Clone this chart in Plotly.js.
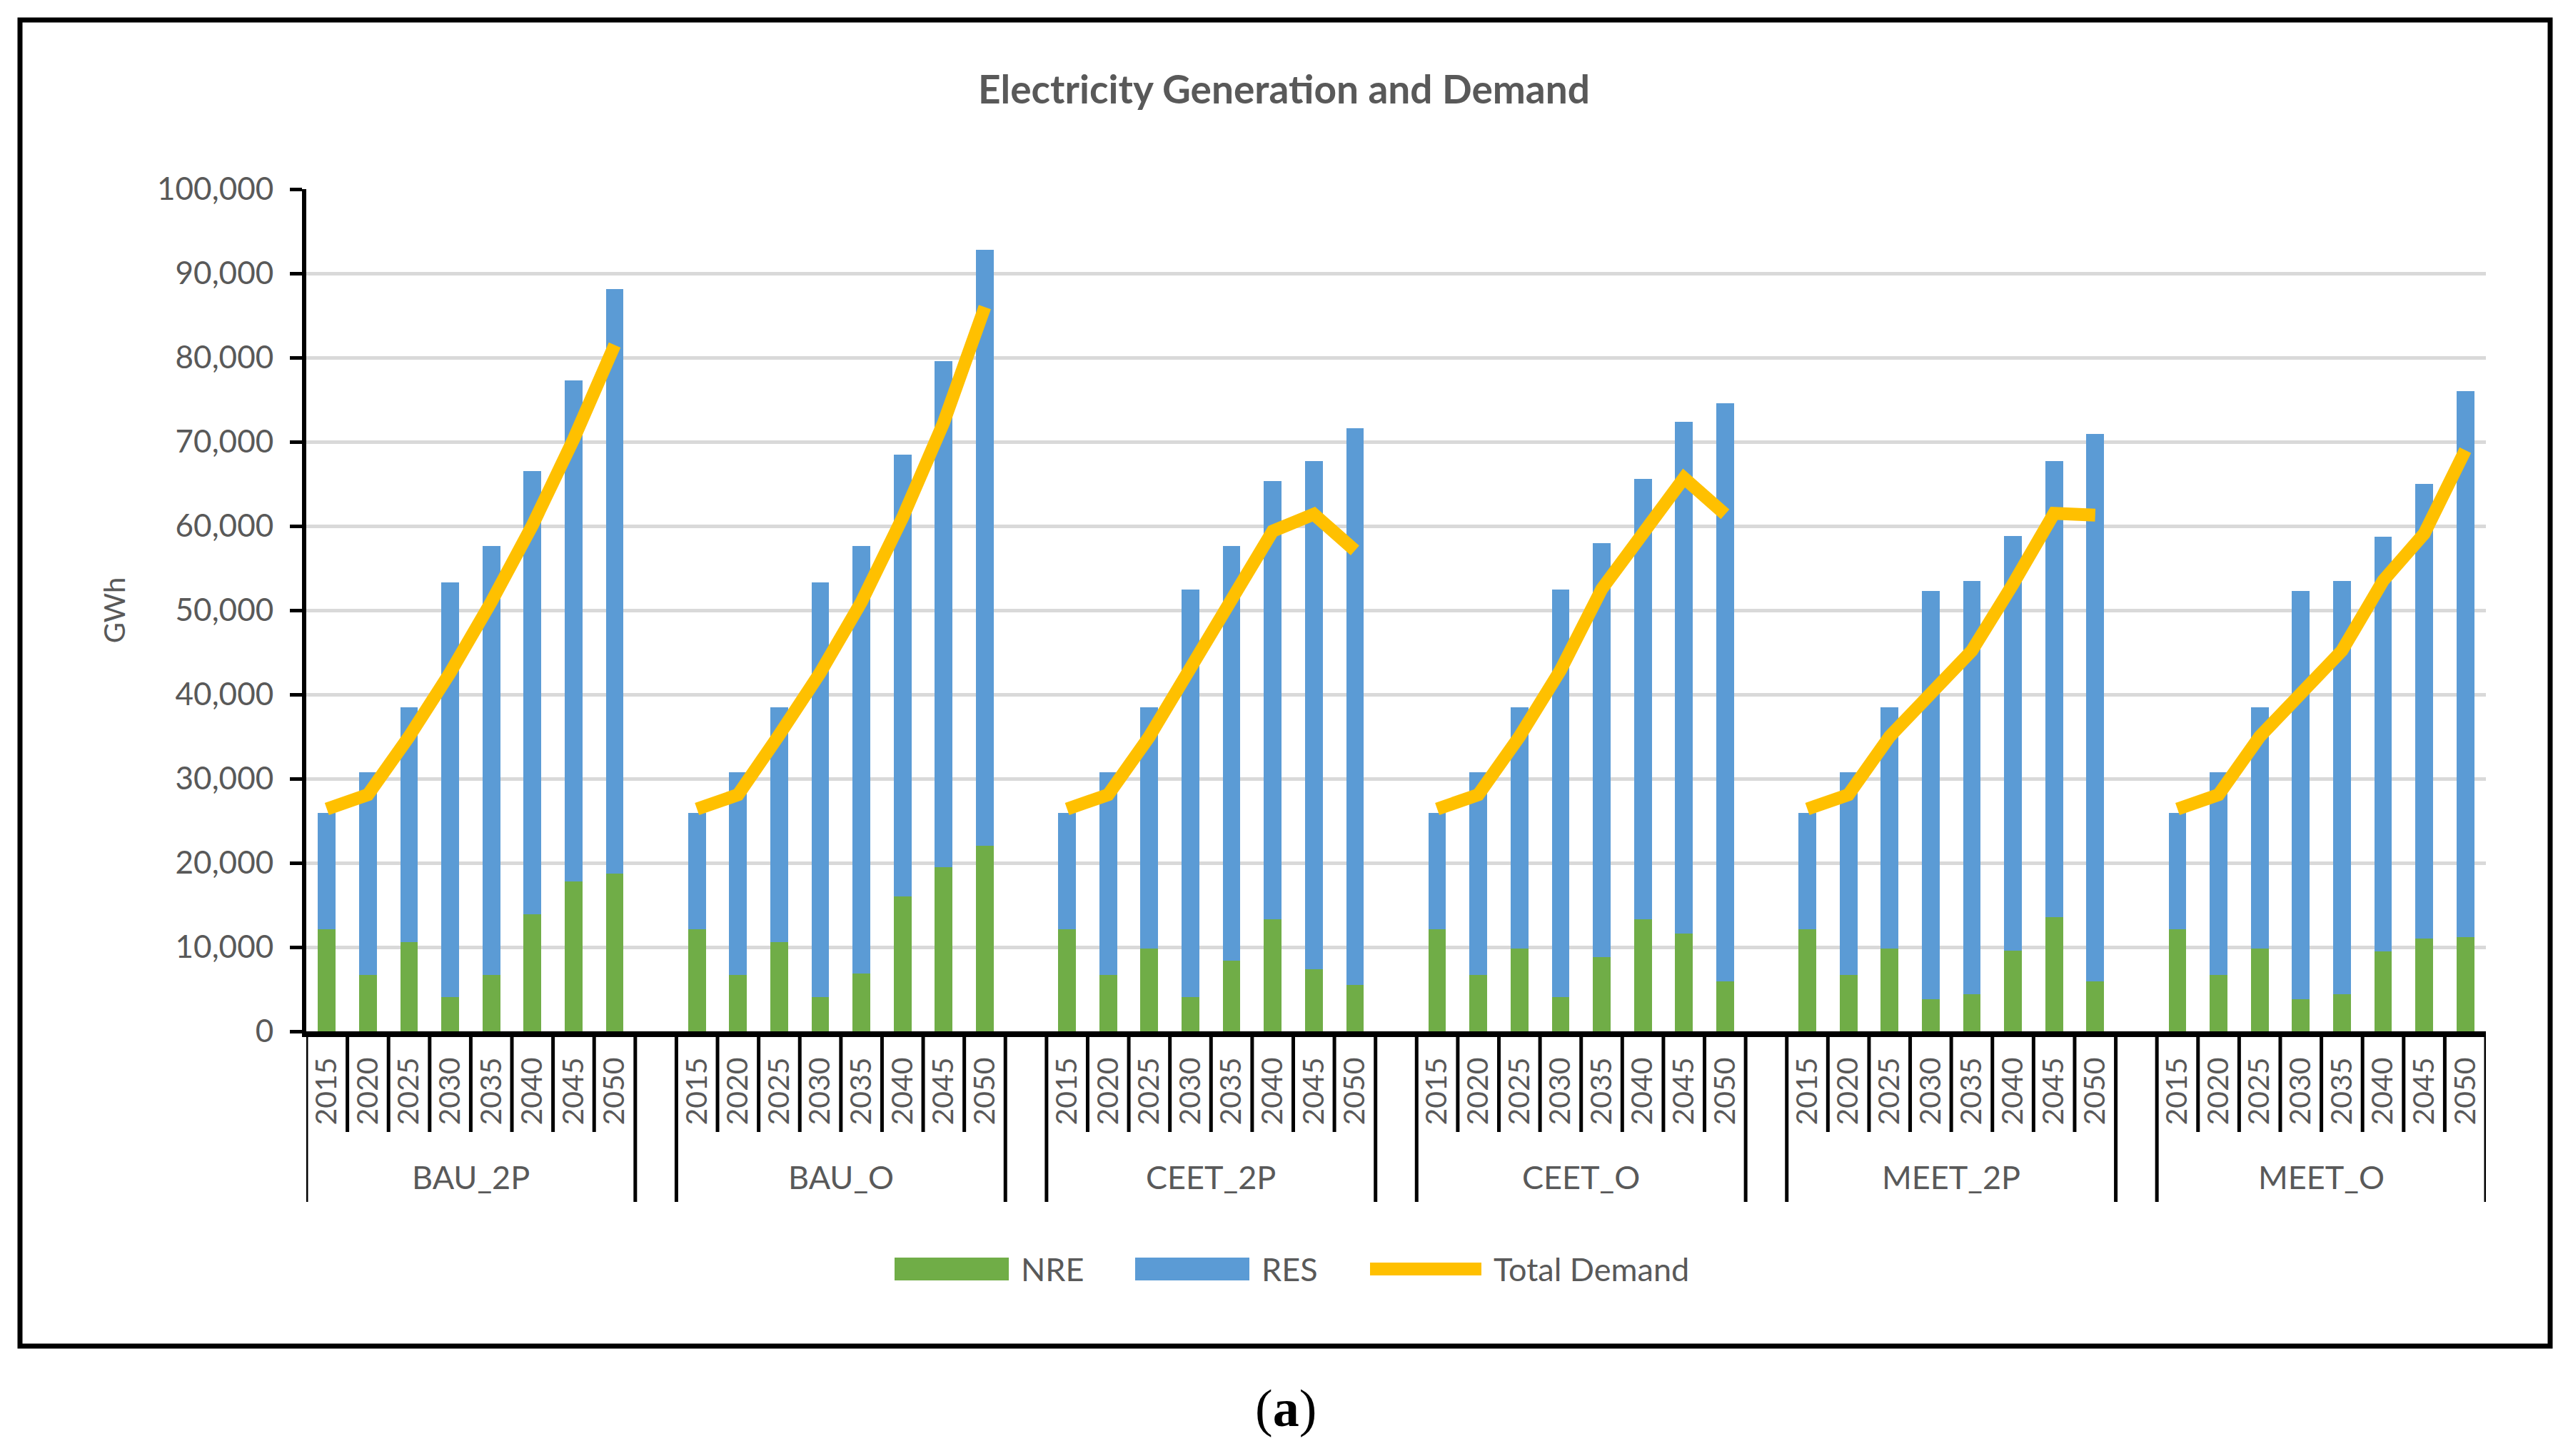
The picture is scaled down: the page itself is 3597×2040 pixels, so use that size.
<!DOCTYPE html>
<html>
<head>
<meta charset="utf-8">
<script src="https://cdn.plot.ly/plotly-3.0.1.min.js"></script>
<style>html,body{margin:0;padding:0;background:#fff;}#chart{width:3597px;height:2040px;}</style>
</head>
<body>
<div id="chart"></div>
<script>
// ---- data (GWh) ----
const groups = ['BAU_2P', 'BAU_O', 'CEET_2P', 'CEET_O', 'MEET_2P', 'MEET_O'];
const years = ['2015', '2020', '2025', '2030', '2035', '2040', '2045', '2050'];
const seriesNames = ['NRE', 'RES', 'Total Demand'];

const nre_BAU_2P  = [12100, 6700, 10600, 4100, 6700, 13900, 17800, 18700];
const res_BAU_2P  = [13800, 24100, 27900, 49200, 50900, 52600, 59500, 69400];
const dem_BAU_2P  = [26400, 28100, 35000, 42600, 51000, 60100, 70300, 81500];

const nre_BAU_O   = [12100, 6700, 10600, 4100, 6900, 16000, 19500, 22000];
const res_BAU_O   = [13800, 24100, 27900, 49200, 50700, 52500, 60100, 70800];
const dem_BAU_O   = [26400, 28100, 35200, 42600, 51000, 61000, 72300, 86000];

const nre_CEET_2P = [12100, 6700, 9800, 4100, 8400, 13300, 7400, 5500];
const res_CEET_2P = [13800, 24100, 28700, 48400, 49200, 52000, 60300, 66100];
const dem_CEET_2P = [26400, 28100, 35000, 42900, 51500, 59400, 61400, 57100];

const nre_CEET_O  = [12100, 6700, 9800, 4100, 8800, 13300, 11600, 5900];
const res_CEET_O  = [13800, 24100, 28700, 48400, 49200, 52300, 60800, 68700];
const dem_CEET_O  = [26400, 28100, 35000, 42900, 52500, 59100, 65700, 61400];

const nre_MEET_2P = [12100, 6700, 9800, 3800, 4400, 9600, 13600, 5900];
const res_MEET_2P = [13800, 24100, 28700, 48500, 49100, 49200, 54100, 65000];
const dem_MEET_2P = [26400, 28100, 35000, 40300, 45200, 53100, 61500, 61300];

const nre_MEET_O  = [12100, 6700, 9800, 3800, 4400, 9500, 11000, 11200];
const res_MEET_O  = [13800, 24100, 28700, 48500, 49100, 49200, 54000, 64800];
const dem_MEET_O  = [26400, 28100, 35000, 40300, 45200, 53500, 59100, 69000];

const nreSeries = [nre_BAU_2P, nre_BAU_O, nre_CEET_2P, nre_CEET_O, nre_MEET_2P, nre_MEET_O];
const resSeries = [res_BAU_2P, res_BAU_O, res_CEET_2P, res_CEET_O, res_MEET_2P, res_MEET_O];
const demSeries = [dem_BAU_2P, dem_BAU_O, dem_CEET_2P, dem_CEET_O, dem_MEET_2P, dem_MEET_O];

// ---- layout geometry (pixels) ----
const W = 3597, H = 2040;
const L = 429, R = 115, T = 265, B = 595;
const PW = W - L - R, PH = H - T - B;
const px2x = p => (p - L) / PW;
const py2y = p => (H - B - p) / PH;
const SLOT = years.length + 1; // one empty slot between groups

const FONT = 'Lato, "Open Sans", sans-serif';
const TXT = '#595959';
const COLORS = ['#70AD47', '#5B9BD5', '#FFC000'];

// ---- build traces ----
const xs = [], nre = [], res = [], lx = [], ly = [];
groups.forEach((g, gi) => {
  years.forEach((y, yi) => {
    const x = gi * SLOT + yi;
    xs.push(x); nre.push(nreSeries[gi][yi]); res.push(resSeries[gi][yi]);
    lx.push(x); ly.push(demSeries[gi][yi]);
  });
  if (gi < groups.length - 1) { lx.push(gi * SLOT + years.length); ly.push(null); }
});

const traces = [
  {type: 'bar', name: seriesNames[0], x: xs, y: nre, marker: {color: COLORS[0]}, width: 0.43, showlegend: false},
  {type: 'bar', name: seriesNames[1], x: xs, y: res, marker: {color: COLORS[1]}, width: 0.43, showlegend: false},
  {type: 'scatter', mode: 'lines', name: seriesNames[2], x: lx, y: ly, connectgaps: false, showlegend: false,
   line: {color: COLORS[2], width: 18, shape: 'linear'}}
];

// ---- shapes: frame + category dividers ----
const shapes = [{
  type: 'rect', xref: 'paper', yref: 'paper',
  x0: px2x(28), x1: px2x(3572), y0: py2y(28), y1: py2y(1886),
  line: {color: '#000', width: 7}, fillcolor: 'rgba(0,0,0,0)', layer: 'below'
}];
const annotations = [];
groups.forEach((g, gi) => {
  const base = gi * SLOT;
  for (let k = 0; k <= years.length; k++) {
    const isEdge = (k === 0 || k === years.length);
    shapes.push({type: 'line', xref: 'x', yref: 'paper',
      x0: base + k - 0.5, x1: base + k - 0.5, y0: 0, y1: py2y(isEdge ? 1684 : 1586),
      line: {color: '#000', width: 5}});
  }
  annotations.push({xref: 'x', yref: 'paper', x: base + (years.length - 1) / 2, y: py2y(1649),
    text: g, showarrow: false, font: {family: FONT, size: 45, color: TXT}, yanchor: 'middle'});
});

// ---- legend (Excel style wide swatches) ----
const LEG_Y = 1778;
const legItems = [
  {sw0: 1253, sw1: 1413, tx: 1428, kind: 'rect'},
  {sw0: 1590, sw1: 1750, tx: 1765, kind: 'rect'},
  {sw0: 1911, sw1: 2083, tx: 2090, kind: 'line'}
];
legItems.forEach((it, i) => {
  if (it.kind === 'rect') {
    shapes.push({type: 'rect', xref: 'paper', yref: 'paper',
      x0: px2x(it.sw0), x1: px2x(it.sw1), y0: py2y(LEG_Y - 16), y1: py2y(LEG_Y + 16),
      fillcolor: COLORS[i], line: {width: 0}});
  } else {
    shapes.push({type: 'line', xref: 'paper', yref: 'paper',
      x0: px2x(it.sw0 + 8), x1: px2x(it.sw1 - 8), y0: py2y(LEG_Y), y1: py2y(LEG_Y),
      line: {color: COLORS[i], width: 18}});
  }
  annotations.push({xref: 'paper', yref: 'paper', x: px2x(it.tx), y: py2y(LEG_Y),
    xanchor: 'left', yanchor: 'middle', text: seriesNames[i], showarrow: false,
    font: {family: FONT, size: 45, color: TXT}});
});

annotations.push({xref: 'paper', yref: 'paper', x: px2x(1801), y: py2y(1973),
  text: '(<b>a</b>)', showarrow: false, yanchor: 'middle',
  font: {family: '"Liberation Serif", "Times New Roman", serif', size: 74, color: '#000'}});

const layout = {
  width: W, height: H,
  margin: {l: L, r: R, t: T, b: B, autoexpand: false},
  paper_bgcolor: '#fff', plot_bgcolor: '#fff',
  barmode: 'stack',
  showlegend: false,
  title: {text: '<b>Electricity Generation and Demand</b>', xref: 'container', x: 0.5, xanchor: 'center',
    yref: 'container', y: 1 - 126 / H, yanchor: 'middle',
    font: {family: FONT, size: 55, color: TXT}},
  xaxis: {
    range: [-0.5, groups.length * SLOT - 1.5], automargin: false,
    tickmode: 'array', tickvals: xs, ticktext: xs.map((x, i) => years[i % years.length]),
    tickangle: -90, ticks: '', ticklabelstandoff: 12,
    tickfont: {family: FONT, size: 41, color: TXT},
    showline: true, linecolor: '#000', linewidth: 8, showgrid: false, zeroline: false, fixedrange: true
  },
  yaxis: {
    range: [0, 100000], tickmode: 'linear', tick0: 0, dtick: 10000, tickformat: ',d', automargin: false,
    ticks: 'outside', ticklen: 17, tickwidth: 5, tickcolor: '#000', ticklabelstandoff: 14,
    tickfont: {family: FONT, size: 44, color: TXT},
    showline: true, linecolor: '#000', linewidth: 6,
    showgrid: true, gridcolor: '#D9D9D9', gridwidth: 5, zeroline: false,
    title: {text: 'GWh', standoff: 34, font: {family: FONT, size: 40, color: TXT}}
  },
  shapes: shapes,
  annotations: annotations
};

Plotly.newPlot('chart', traces, layout, {displayModeBar: false, staticPlot: true});
</script>
</body>
</html>
